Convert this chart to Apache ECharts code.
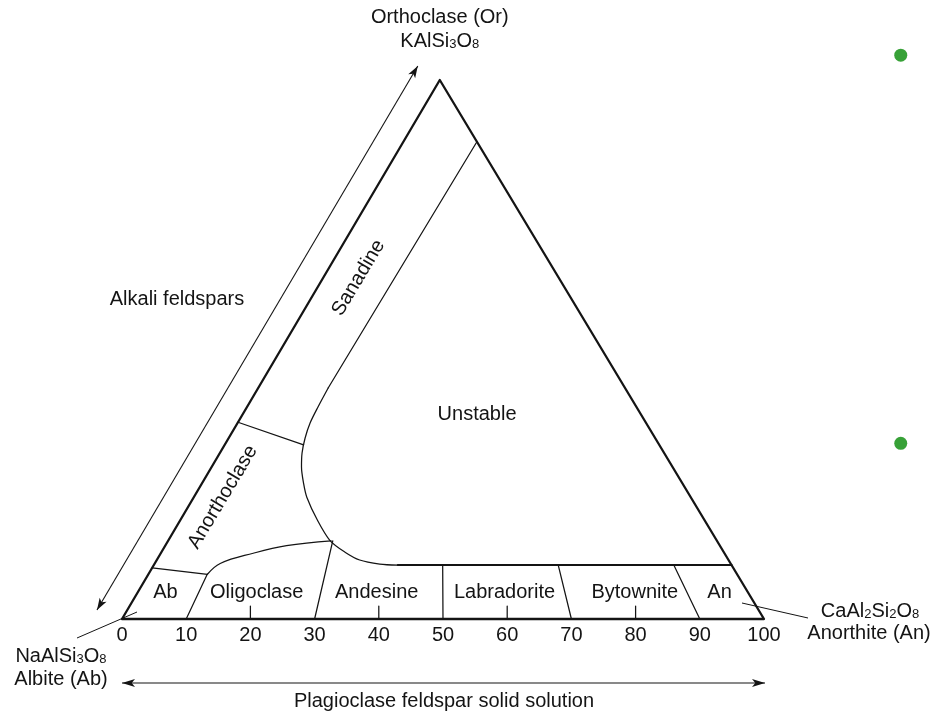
<!DOCTYPE html>
<html>
<head>
<meta charset="utf-8">
<script src="https://cdn.jsdelivr.net/npm/echarts@6/dist/echarts.min.js"></script>
<style>
html,body{margin:0;padding:0;background:#fff;}
#chart{width:938px;height:714px;}
</style>
</head>
<body>
<div id="chart"></div>
<script>
// ---------------- DATA (ternary compositions: [An %, Or %]) ----------------
const baseTickLabels = [0, 10, 20, 30, 40, 50, 60, 70, 80, 90, 100];
const baseMinorTicks = [20, 40, 60, 80];

const triangleCorners = [[0, 0], [100, 0], [0, 100], [0, 0]]; // Ab, An, Or

// Sanidine / unstable boundary (straight part, then rounded part)
const sanidineLine = [[11.45, 88.55], [10.9, 42.9]];
const unstableCurve = [[10.9, 42.9], [11.06, 39.33], [11.3, 36.36], [11.9, 33.58], [12.8, 30.8],
                       [14.0, 28.2], [15.9, 25.05], [17.6, 22.6], [21.3, 18.4], [25.2, 14.55],
                       [28.6, 12.4], [31.6, 10.95], [35.1, 10.2], [38, 10]];
const plagioclaseTop = [[38, 10], [90, 10]];

// Sanidine / anorthoclase boundary
const sanidineAnorthoclase = [[0, 36.5], [12.3, 32.3]];
// Anorthoclase / plagioclase boundary
const abTop = [[0, 9.5], [9.2, 8.3]];
const anorthoclaseBase = [[9.2, 8.3], [10.2, 10.3], [14.4, 12.2], [18.9, 13.6], [25.4, 14.5]];

// Plagioclase divisions: An/(An+Ab) ratio and Or content where they stop
const plagDivisionRatio = [10, 30, 50, 70, 90];
const plagDivisionTopOr = [8.3, 14.5, 10, 10, 10];

// Field names and label anchors [An, Or]
const plagNames = ['Ab', 'Oligoclase', 'Andesine', 'Labradorite', 'Bytownite', 'An'];
const plagAnchors = [[4.3, 5], [18.5, 5], [37.2, 5], [57.1, 5], [77.4, 5], [90.6, 5]];
const fieldNames = ['Sanadine', 'Anorthoclase', 'Unstable'];
const fieldAnchors = [[5.5, 63.3], [4.5, 22.6], [36.5, 38.0]];
const fieldAngles = [59, 59, 0];

// Stray green markers (cartesian base units)
const greenMarkers = [[121.3, 104.6], [121.3, 32.6]];

// ---------------- helpers ----------------
const APEX = 0.495;               // Or apex position along base
function T(p) { return [p[0] + p[1] * APEX, p[1]]; }
const INK = '#141414';
const FONT = '"Liberation Sans", Arial, Helvetica, sans-serif';

function lineSeries(points, width, smooth, isCart) {
  return {
    type: 'line',
    data: points.map(p => isCart ? p : T(p)),
    symbol: 'none',
    smooth: smooth || false,
    silent: true,
    clip: false,
    animation: false,
    lineStyle: { color: INK, width: width, cap: 'round', join: 'round' },
    z: 3
  };
}

const series = [];
series.push(lineSeries(triangleCorners, 2.3));
series.push(lineSeries(sanidineLine, 1.25));
series.push(lineSeries(unstableCurve, 1.25, 0.3));
series.push(lineSeries(plagioclaseTop, 2));
series.push(lineSeries(sanidineAnorthoclase, 1.25));
series.push(lineSeries(abTop, 1.25));
series.push(lineSeries(anorthoclaseBase, 1.25, 0.4));
plagDivisionRatio.forEach((r, i) => {
  const top = plagDivisionTopOr[i];
  series.push(lineSeries([[r, 0], [r * (100 - top) / 100, top]], 1.25));
});
baseMinorTicks.forEach(t => {
  series.push(lineSeries([[t, 0], [t, 2.4]], 1.25, false, true));
});

const labelData = [];
plagNames.forEach((n, i) => labelData.push({ name: n, value: T(plagAnchors[i]), rot: 0 }));
fieldNames.forEach((n, i) => labelData.push({ name: n, value: T(fieldAnchors[i]), rot: fieldAngles[i] }));

series.push({
  type: 'scatter',
  data: labelData.map(d => ({
    name: d.name, value: d.value,
    label: { rotate: d.rot }
  })),
  symbolSize: 1,
  itemStyle: { color: 'rgba(255,255,255,0)' },
  silent: true,
  animation: false,
  emphasis: { disabled: true },
  label: {
    show: true, position: 'inside', formatter: p => p.name,
    fontSize: 20, color: INK, fontFamily: FONT,
    textBorderWidth: 0, textBorderColor: 'transparent', opacity: 1
  },
  z: 5
});

series.push({
  type: 'scatter',
  data: greenMarkers,
  symbolSize: 13,
  clip: false,
  silent: true,
  animation: false,
  itemStyle: { color: '#058a05' }
});

const chart = echarts.init(document.getElementById('chart'), null, { renderer: 'canvas' });
chart.setOption({
  backgroundColor: '#fff',
  animation: false,
  textStyle: { fontFamily: FONT },
  grid: { left: 122, right: 174, top: 80, bottom: 95, containLabel: false, outerBoundsMode: 'none' },
  xAxis: {
    type: 'value', min: 0, max: 100, interval: 10,
    axisLine: { show: false }, axisTick: { show: false }, splitLine: { show: false },
    axisLabel: {
      margin: 6, fontSize: 20, color: INK, fontFamily: FONT,
      formatter: v => baseTickLabels.indexOf(v) >= 0 ? String(v) : ''
    }
  },
  yAxis: { type: 'value', min: 0, max: 100, show: false },
  series: series
});

// ---------------- annotations (arrows, leader lines, outer labels) ----------------
function arrowHead(tip, from, len, half) {
  const dx = tip[0] - from[0], dy = tip[1] - from[1];
  const L = Math.hypot(dx, dy); const ux = dx / L, uy = dy / L;
  const px = -uy, py = ux;
  return {
    type: 'polygon', silent: true, z: 10,
    shape: { points: [tip, [tip[0] - ux * len + px * half, tip[1] - uy * len + py * half],
                      [tip[0] - ux * len * 0.75, tip[1] - uy * len * 0.75],
                      [tip[0] - ux * len - px * half, tip[1] - uy * len - py * half]] },
    style: { fill: INK }
  };
}
function seg(a, b, w) {
  return { type: 'line', silent: true, z: 10,
    shape: { x1: a[0], y1: a[1], x2: b[0], y2: b[1] },
    style: { stroke: INK, lineWidth: w } };
}
function txt(x, y, text, rich) {
  const o = { type: 'text', silent: true, z: 10, x: x, y: y,
    style: { text: text, fill: INK, font: '20px ' + FONT, align: 'center', verticalAlign: 'middle' } };
  if (rich) o.style.rich = rich;
  return o;
}
const formulaRich = {
  n: { fontSize: 20, fontFamily: FONT, fill: INK, color: INK, verticalAlign: 'bottom', lineHeight: 22 },
  s: { fontSize: 13, fontFamily: FONT, fill: INK, color: INK, verticalAlign: 'bottom', lineHeight: 12 }
};

const pAb = chart.convertToPixel({ gridIndex: 0 }, T([0, 0]));
const pAn = chart.convertToPixel({ gridIndex: 0 }, T([100, 0]));
const pOr = chart.convertToPixel({ gridIndex: 0 }, T([0, 100]));

const leftA = [pAb[0] - 25, pAb[1] - 9];
const leftB = [pOr[0] - 22, pOr[1] - 14];
const botA = [pAb[0], pAb[1] + 64];
const botB = [pAn[0] + 1, pAn[1] + 64];

const graphics = [
  seg(leftA, leftB, 1.1), arrowHead(leftA, leftB, 12, 4), arrowHead(leftB, leftA, 12, 4),
  seg(botA, botB, 1.1), arrowHead(botA, botB, 13, 4), arrowHead(botB, botA, 13, 4),
  seg([77, 638], [137, 612], 1),
  seg([742, 603], [808, 618], 1),
  txt(pOr[0], 17, 'Orthoclase (Or)'),
  txt(pOr[0], 40, '{n|KAlSi}{s|3}{n|O}{s|8}', formulaRich),
  txt(177, 299, 'Alkali feldspars'),
  txt(61, 655, '{n|NaAlSi}{s|3}{n|O}{s|8}', formulaRich),
  txt(61, 679, 'Albite (Ab)'),
  txt(870, 610, '{n|CaAl}{s|2}{n|Si}{s|2}{n|O}{s|8}', formulaRich),
  txt(869, 633, 'Anorthite (An)'),
  txt(444, 701, 'Plagioclase feldspar solid solution')
];
chart.setOption({ graphic: graphics });
</script>
</body>
</html>
